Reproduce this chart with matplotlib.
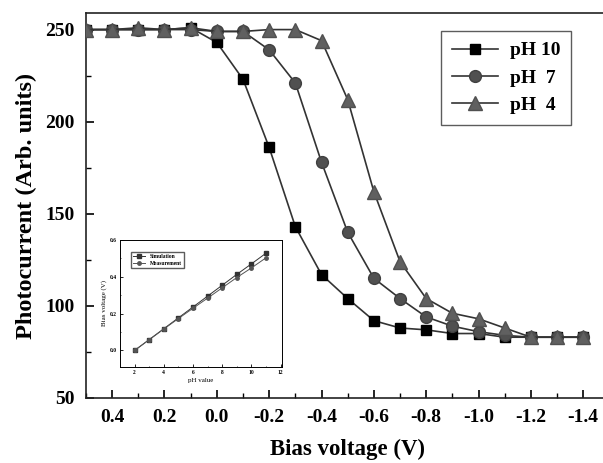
import matplotlib
matplotlib.use("Agg")
import matplotlib.pyplot as plt
from matplotlib.ticker import MultipleLocator

plt.rcParams['font.family'] = ['Liberation Serif', 'DejaVu Serif']
plt.rcParams['font.weight'] = 'bold'

bias = [0.5, 0.4, 0.3, 0.2, 0.1, 0.0, -0.1, -0.2, -0.3, -0.4, -0.5, -0.6, -0.7, -0.8, -0.9, -1.0, -1.1, -1.2, -1.3, -1.4]
ph10 = [250, 250, 250, 250, 251, 243, 223, 186, 143, 117, 104, 92, 88, 87, 85, 85, 83, 83, 83, 83]
ph7 = [250, 250, 250, 250, 250, 249, 249, 239, 221, 178, 140, 115, 104, 94, 89, 86, 84, 83, 83, 83]
ph4 = [250, 250, 251, 250, 251, 249, 249, 250, 250, 244, 212, 162, 124, 104, 96, 93, 88, 83, 83, 83]

inset_ph = [2, 3, 4, 5, 6, 7, 8, 9, 10, 11]
simulation = [0.0, 0.059, 0.118, 0.177, 0.236, 0.295, 0.354, 0.413, 0.470, 0.528]
measurement = [0.0, 0.058, 0.116, 0.173, 0.229, 0.284, 0.340, 0.396, 0.448, 0.503]

fig = plt.figure(figsize=(6.03, 4.63), dpi=100)
ax = fig.add_axes([0.1426, 0.1404, 0.868, 0.8315])

lc = '#333333'
ax.plot(bias, ph10, '-', color=lc, lw=1.2, marker='s', ms=7.5, mfc='black', mec='black', label='pH 10', zorder=3)
ax.plot(bias, ph7, '-', color=lc, lw=1.2, marker='o', ms=8.5, mfc='#505050', mec='#404040', label='pH  7', zorder=3)
ax.plot(bias, ph4, '-', color=lc, lw=1.2, marker='^', ms=9.5, mfc='#606060', mec='#505050', label='pH  4', zorder=3)

ax.set_xlim(0.5, -1.5)
ax.set_ylim(50, 259)
ax.xaxis.set_minor_locator(MultipleLocator(0.1))
ax.yaxis.set_major_locator(MultipleLocator(50))
ax.yaxis.set_minor_locator(MultipleLocator(25))
ax.set_xticks([0.4, 0.2, 0.0, -0.2, -0.4, -0.6, -0.8, -1.0, -1.2, -1.4])
ax.set_xticklabels(['0.4', '0.2', '0.0', '-0.2', '-0.4', '-0.6', '-0.8', '-1.0', '-1.2', '-1.4'])
ax.tick_params(which='major', direction='in', length=6, width=1.2, labelsize=14, pad=8)
ax.tick_params(which='minor', direction='in', length=3.5, width=1.0)
ax.tick_params(top=False, right=False, which='both')
for lab in ax.get_xticklabels() + ax.get_yticklabels():
    lab.set_fontweight('bold')
for sp in ax.spines.values():
    sp.set_linewidth(1.2)
    sp.set_color('#222222')

ax.set_xlabel('Bias voltage (V)', fontsize=16.5, fontweight='bold', labelpad=9)
ax.set_ylabel('Photocurrent (Arb. units)', fontsize=17.5, fontweight='bold', labelpad=6)

leg = ax.legend(loc='upper right', bbox_to_anchor=(0.927, 0.953), borderaxespad=0, frameon=True,
                fancybox=False, edgecolor='#333333', handlelength=2.4, borderpad=0.55,
                labelspacing=0.5, handletextpad=0.6, prop={'weight': 'bold', 'size': 14})
leg.get_frame().set_linewidth(1.0)

# inset
axi = fig.add_axes([120/603, 1-367/463, (282-120)/603, (367-240)/463])
axi.plot(inset_ph, simulation, '-', color='#333333', lw=0.7, marker='s', ms=2.5, label='Simulation')
axi.plot(inset_ph, measurement, '-', color='#555555', lw=0.7, marker='o', ms=2.5, label='Measurement')
axi.set_xlim(1, 12.1)
axi.set_ylim(-0.09, 0.6)
axi.set_xticks([2, 4, 6, 8, 10, 12])
axi.set_yticks([0.0, 0.2, 0.4, 0.6])
axi.set_yticklabels(['0.0', '0.2', '0.4', '0.6'])
axi.xaxis.set_minor_locator(MultipleLocator(1))
axi.yaxis.set_minor_locator(MultipleLocator(0.1))
axi.tick_params(which='major', direction='in', length=2, width=0.6, labelsize=4, pad=2)
axi.tick_params(which='minor', direction='in', length=1, width=0.5)
for sp in axi.spines.values():
    sp.set_linewidth(0.7)
axi.set_xlabel('pH value', fontsize=5, labelpad=2)
axi.set_ylabel('Bias voltage (V)', fontsize=5, labelpad=2)
axi.legend(loc='upper left', bbox_to_anchor=(0.05, 0.93), fontsize=4, frameon=True, fancybox=False,
           edgecolor='#333333', handlelength=2.2, borderpad=0.4, labelspacing=0.3)

fig.savefig('out.png', dpi=100)
